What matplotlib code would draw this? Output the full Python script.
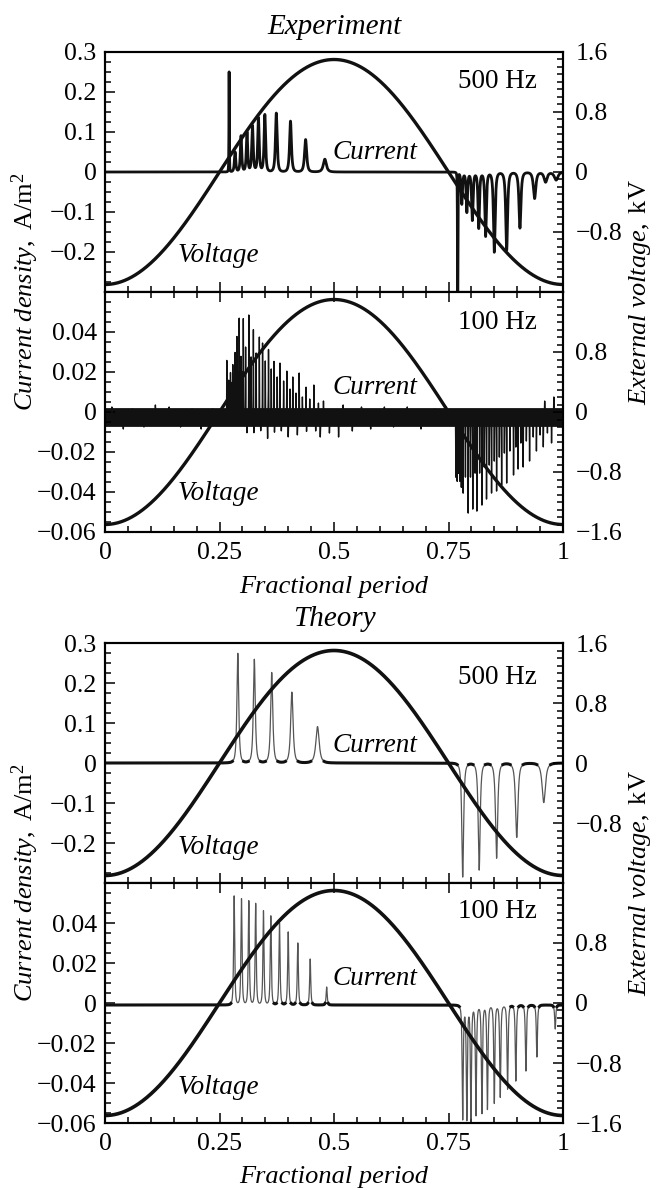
import numpy as np
import matplotlib
matplotlib.use('Agg')
import matplotlib.pyplot as plt
from matplotlib.ticker import MultipleLocator

plt.rcParams['font.family'] = ['Liberation Serif', 'DejaVu Serif']
plt.rcParams['mathtext.fontset'] = 'custom'
plt.rcParams['mathtext.rm'] = 'Liberation Serif'
plt.rcParams['mathtext.it'] = 'Liberation Serif:italic'
plt.rcParams['mathtext.bf'] = 'Liberation Serif:bold'

# ---------------- data ----------------
volt_amp = 1.5  # kV, external voltage amplitude

# Experiment, 500 Hz
exp500_base = 0.0
exp500_x = [0.271, 0.284, 0.297, 0.310, 0.322, 0.335, 0.349, 0.374, 0.405, 0.438, 0.480,
            0.770, 0.779, 0.790, 0.802, 0.816, 0.831, 0.850, 0.877, 0.906, 0.938, 0.962, 0.985]
exp500_h = [0.250, 0.050, 0.090, 0.100, 0.115, 0.135, 0.143, 0.147, 0.127, 0.081, 0.032,
            -0.400, -0.080, -0.100, -0.120, -0.140, -0.160, -0.200, -0.195, -0.140, -0.066, -0.025, -0.020]
exp500_w = [0.0006, 0.0022, 0.0022, 0.0022, 0.0024, 0.0024, 0.0025, 0.0028, 0.0030, 0.0035, 0.0050,
            0.0006, 0.0022, 0.0022, 0.0024, 0.0024, 0.0025, 0.0028, 0.0030, 0.0032, 0.0040, 0.0050, 0.0060]

# Experiment, 100 Hz
exp100_base = -0.0025
exp100_band = (-0.0072, 0.0022)
exp100_x = [0.266, 0.2675, 0.270, 0.2715, 0.274, 0.276, 0.279, 0.281, 0.284, 0.286, 0.288, 0.291,
            0.293, 0.295, 0.297, 0.300, 0.302, 0.307, 0.314, 0.319, 0.324, 0.330, 0.337, 0.344,
            0.350, 0.357, 0.363, 0.369, 0.376, 0.382, 0.390, 0.397, 0.404, 0.410, 0.417, 0.424,
            0.431, 0.439, 0.447, 0.456, 0.466, 0.477,
            0.766, 0.769, 0.772, 0.775, 0.778, 0.782, 0.787, 0.793, 0.798, 0.803, 0.808, 0.812,
            0.818, 0.823, 0.828, 0.833, 0.839, 0.844, 0.850, 0.855, 0.861, 0.866, 0.872, 0.877,
            0.884, 0.892, 0.897, 0.902, 0.908, 0.913, 0.920, 0.927, 0.935, 0.942, 0.950, 0.957,
            0.966, 0.975]
exp100_h = [0.028, 0.015, 0.018, 0.016, 0.022, 0.017, 0.026, 0.018, 0.032, 0.020, 0.040, 0.022,
            0.049, 0.024, 0.030, 0.022, 0.049, 0.035, 0.051, 0.030, 0.045, 0.032, 0.040, 0.037,
            0.028, 0.034, 0.024, 0.029, 0.020, 0.027, 0.018, 0.023, 0.014, 0.020, 0.012, 0.022,
            0.010, 0.016, 0.009, 0.016, 0.007, 0.008,
            -0.030, -0.032, -0.028, -0.032, -0.035, -0.038, -0.030, -0.048, -0.030, -0.046, -0.028, -0.047,
            -0.028, -0.044, -0.025, -0.041, -0.024, -0.038, -0.022, -0.037, -0.020, -0.034, -0.018, -0.033,
            -0.017, -0.029, -0.015, -0.026, -0.013, -0.025, -0.012, -0.022, -0.010, -0.017, -0.009, -0.015,
            -0.008, -0.013]
exp100_w = 0.0004
exp100_noise_x = [0.015, 0.04, 0.06, 0.085, 0.11, 0.115, 0.14, 0.165, 0.19, 0.21, 0.235,
                  0.31, 0.325, 0.34, 0.355, 0.37, 0.385, 0.40, 0.42, 0.44, 0.46, 0.47, 0.49,
                  0.51, 0.52, 0.54, 0.56, 0.58, 0.61, 0.63, 0.66, 0.69, 0.72, 0.745, 0.96, 0.98]
exp100_noise_h = [0.005, -0.006, 0.004, -0.005, 0.006, -0.004, 0.005, -0.005, 0.004, -0.006, 0.004,
                  -0.008, -0.010, -0.007, -0.011, -0.009, -0.007, -0.010, -0.009, -0.008, -0.007, -0.010, -0.008,
                  -0.010, 0.006, -0.007, 0.005, -0.006, 0.005, -0.005, 0.005, -0.006, 0.004, 0.005, 0.008, 0.010]

# Theory, 500 Hz
th500_base = 0.0
th500_x = [0.290, 0.326, 0.364, 0.408, 0.464, 0.781, 0.817, 0.855, 0.899, 0.958]
th500_h = [0.274, 0.259, 0.226, 0.177, 0.091, -0.285, -0.2675, -0.238, -0.186, -0.099]
th500_w = [0.0030, 0.0032, 0.0035, 0.0040, 0.0055, 0.0030, 0.0032, 0.0035, 0.0040, 0.0055]

# Theory, 100 Hz
th100_base = -0.001
th100_x = [0.282, 0.298, 0.314, 0.329, 0.346, 0.362, 0.381, 0.400, 0.421, 0.448, 0.484,
           0.781, 0.790, 0.799, 0.810, 0.823, 0.835, 0.850, 0.863, 0.879, 0.897, 0.919, 0.943, 0.983]
th100_h = [0.0545, 0.053, 0.052, 0.0507, 0.047, 0.0445, 0.041, 0.0365, 0.031, 0.023, 0.009,
           -0.057, -0.057, -0.056, -0.055, -0.054, -0.052, -0.049, -0.046, -0.042, -0.038, -0.033, -0.026, -0.012]
th100_w = 0.0018

# axis ticks / labels
x_ticks = [0, 0.25, 0.5, 0.75, 1]
x_ticklabels = ['0', '0.25', '0.5', '0.75', '1']
y500_ticks = [-0.2, -0.1, 0, 0.1, 0.2, 0.3]
y500_labels = ['\u22120.2', '\u22120.1', '0', '0.1', '0.2', '0.3']
y100_ticks = [-0.06, -0.04, -0.02, 0, 0.02, 0.04]
y100_labels = ['\u22120.06', '\u22120.04', '\u22120.02', '0', '0.02', '0.04']
v_top_ticks = [-0.8, 0, 0.8, 1.6]
v_top_labels = ['\u22120.8', '0', '0.8', '1.6']
v_bot_ticks = [-1.6, -0.8, 0, 0.8]
v_bot_labels = ['\u22121.6', '\u22120.8', '0', '0.8']


def build_trace(xg, base, px, ph, pw, power=1.5):
    y = np.full_like(xg, base, dtype=float)
    pw = np.broadcast_to(np.asarray(pw, dtype=float), (len(px),))
    for x0, h, w in zip(px, ph, pw):
        y += h / (1.0 + ((xg - x0) / w) ** 2) ** power
    return y


xg = np.linspace(0, 1, 60001)
volt = -volt_amp * np.cos(2 * np.pi * xg)

# ---------------- figure ----------------
fig = plt.figure(figsize=(6.56, 11.9), dpi=100)
FS_TICK = 18.5
FS_TXT = 19.5
L, W, H = 105 / 656, 458 / 656, 240 / 1190
tops = [52, 292, 643, 883]


def make_axes(top_px):
    return fig.add_axes([L, 1 - (top_px + 240) / 1190, W, H])


def style(ax, ax2, ylim, yt, yl, ymin, vt, vl, vmin, bottom_panel):
    ax.set_xlim(0, 1)
    ax.set_ylim(*ylim)
    ax2.set_ylim(-1.6, 1.6)
    ax.set_xticks(x_ticks)
    ax.xaxis.set_minor_locator(MultipleLocator(0.05))
    ax.set_yticks(yt)
    ax.set_yticklabels(yl)
    ax.yaxis.set_minor_locator(MultipleLocator(ymin))
    ax2.set_yticks(vt)
    ax2.set_yticklabels(vl)
    ax2.yaxis.set_minor_locator(MultipleLocator(vmin))
    if bottom_panel:
        ax.set_xticklabels(x_ticklabels)
        ax.tick_params(axis='x', which='both', top=True, bottom=True)
    else:
        ax.set_xticklabels([])
        ax.tick_params(axis='x', which='both', top=False, bottom=True)
    ax.tick_params(axis='both', which='both', direction='in', labelsize=FS_TICK, width=1.1)
    ax.tick_params(axis='y', which='both', left=True, right=False, pad=6)
    ax.tick_params(axis='x', which='major', pad=7)
    ax.tick_params(which='major', length=7)
    ax.tick_params(which='minor', length=4)
    ax2.tick_params(axis='y', which='both', direction='in', labelsize=FS_TICK, width=1.1, pad=9)
    ax2.tick_params(which='major', length=7)
    ax2.tick_params(which='minor', length=4)
    for a in (ax, ax2):
        for s in a.spines.values():
            s.set_linewidth(1.5)


def annotate(ax, freq, fy, cy, vy):
    ax.text(0.856, fy, freq, transform=ax.transAxes, ha='center', va='center', fontsize=FS_TXT)
    ax.text(0.59, cy, 'Current', transform=ax.transAxes, ha='center', va='center',
            fontsize=FS_TXT, style='italic')
    ax.text(0.248, vy, 'Voltage', transform=ax.transAxes, ha='center', va='center',
            fontsize=FS_TXT, style='italic')


# Experiment 500 Hz
ax = make_axes(tops[0]); ax2 = ax.twinx()
cur = build_trace(xg, exp500_base, exp500_x, exp500_h, exp500_w, power=1.5)
ax.plot(xg, cur, color='#111111', lw=2.0)
ax2.plot(xg, volt, color='#111111', lw=2.4)
style(ax, ax2, (-0.3, 0.3), y500_ticks, y500_labels, 0.025, v_top_ticks, v_top_labels, 0.1, False)
annotate(ax, '500 Hz', 0.875, 0.58, 0.154)

# Experiment 100 Hz
ax = make_axes(tops[1]); ax2 = ax.twinx()
cur = build_trace(xg, exp100_base, exp100_x, exp100_h, exp100_w, power=1.5)
cur += build_trace(xg, 0.0, exp100_noise_x, exp100_noise_h, 0.0006, power=1.5)
ax.fill_between(xg, exp100_band[0], exp100_band[1], color='#111111', lw=0)
ax.plot(xg, cur, color='#111111', lw=1.0)
ax2.plot(xg, volt, color='#111111', lw=2.4)
style(ax, ax2, (-0.06, 0.06), y100_ticks, y100_labels, 0.005, v_bot_ticks, v_bot_labels, 0.1, True)
annotate(ax, '100 Hz', 0.874, 0.60, 0.16)

# Theory 500 Hz
ax = make_axes(tops[2]); ax2 = ax.twinx()
cur = build_trace(xg, th500_base, th500_x, th500_h, th500_w, power=1.5)
flat = np.abs(cur - th500_base) < 0.004
ax.plot(xg, cur, color='#555555', lw=0.9)
ax.plot(xg, np.where(flat, cur, np.nan), color='#111111', lw=2.2)
ax2.plot(xg, volt, color='#111111', lw=2.6)
style(ax, ax2, (-0.3, 0.3), y500_ticks, y500_labels, 0.025, v_top_ticks, v_top_labels, 0.1, False)
annotate(ax, '500 Hz', 0.858, 0.575, 0.146)

# Theory 100 Hz
ax = make_axes(tops[3]); ax2 = ax.twinx()
cur = build_trace(xg, th100_base, th100_x, th100_h, th100_w, power=1.5)
flat = np.abs(cur - th100_base) < 0.0008
ax.plot(xg, cur, color='#555555', lw=0.9)
ax.plot(xg, np.where(flat, cur, np.nan), color='#111111', lw=2.2)
ax2.plot(xg, volt, color='#111111', lw=2.6)
style(ax, ax2, (-0.06, 0.06), y100_ticks, y100_labels, 0.005, v_bot_ticks, v_bot_labels, 0.1, True)
annotate(ax, '100 Hz', 0.883, 0.604, 0.146)

# titles and axis labels
cx = (105 + 563) / 2 / 656
fig.text(cx, 1 - 27 / 1190, 'Experiment', ha='center', va='center', fontsize=21, style='italic')
fig.text(cx, 1 - 619 / 1190, 'Theory', ha='center', va='center', fontsize=21, style='italic')
fig.text(cx, 1 - 587 / 1190, 'Fractional period', ha='center', va='center', fontsize=19, style='italic')
fig.text(cx, 1 - 1177 / 1190, 'Fractional period', ha='center', va='center', fontsize=19, style='italic')

ylab = r'$\mathit{Current\ density,}\ \mathrm{A/m}^{2}$'
vlab = r'$\mathit{External\ voltage,}\ \mathrm{kV}$'
for yc in (292, 883):
    fig.text(25 / 656, 1 - yc / 1190, ylab, rotation=90, ha='center', va='center', fontsize=19)
    fig.text(640 / 656, 1 - yc / 1190, vlab, rotation=90, ha='center', va='center', fontsize=19)

fig.savefig('out.png', dpi=100)
